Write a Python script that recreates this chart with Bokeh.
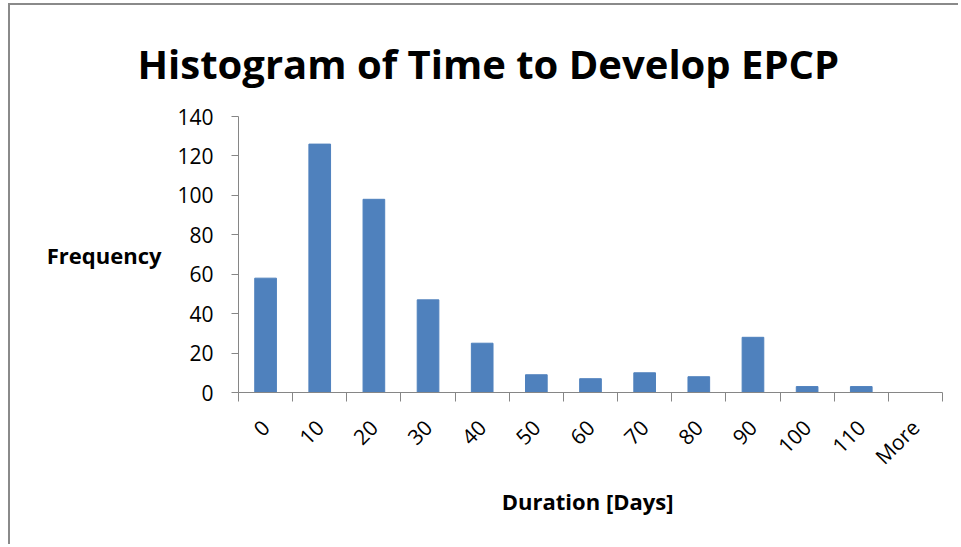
import math
from bokeh.plotting import figure
from bokeh.models import Range1d, FixedTicker, LinearAxis, Title
from bokeh.embed import file_html
from bokeh.resources import INLINE

# ---- data ----
bins = ["0", "10", "20", "30", "40", "50", "60", "70", "80", "90", "100", "110", "More"]
frequency = [58, 126, 98, 47, 25, 9, 7, 10, 8, 28, 3, 3, 0]
y_ticks = [0, 20, 40, 60, 80, 100, 120, 140]

title_text = "Histogram of Time to Develop EPCP"
x_label = "Duration  [Days]"
y_label = "Frequency"

FONT = "Open Sans"
BAR = "#4F81BD"
AXIS = "#868686"

n = len(bins)
y_max = y_ticks[-1]
centers = [i + 0.5 for i in range(n)]
bounds = [float(i) for i in range(n + 1)]

p = figure(
    width=950, height=541,
    output_backend="svg", toolbar_location=None,
    x_range=Range1d(0, n), y_range=Range1d(0, y_max),
    x_axis_type=None, y_axis_type=None,
    min_border_left=228, min_border_right=18,
    min_border_top=111, min_border_bottom=154,
    outline_line_color=None, background_fill_color="white",
    border_fill_color="white",
)
p.styles = {"border-top": "2px solid #8a8a8a", "border-left": "2px solid #8a8a8a",
            "margin-top": "3px", "margin-left": "8px"}
p.grid.visible = False

p.vbar(x=centers, top=frequency, width=0.4, fill_color=BAR, line_color=BAR)

# y axis
ya = LinearAxis(ticker=FixedTicker(ticks=y_ticks, minor_ticks=[]))
ya.axis_line_color = AXIS
ya.major_tick_line_color = AXIS
ya.major_tick_out = 7
ya.major_tick_in = 0
ya.minor_tick_line_color = None
ya.major_label_text_font = FONT
ya.major_label_text_font_size = "21px"
ya.major_label_text_color = "#000000"
ya.major_label_standoff = 18
ya.axis_label = y_label
ya.axis_label_orientation = "horizontal"
ya.axis_label_text_font = FONT
ya.axis_label_text_font_style = "bold"
ya.axis_label_text_font_size = "22px"
ya.axis_label_text_color = "#000000"
ya.axis_label_standoff = 13
p.add_layout(ya, "left")

# x axis
xa = LinearAxis(ticker=FixedTicker(ticks=centers, minor_ticks=bounds))
xa.major_label_overrides = {c: b for c, b in zip(centers, bins)}
xa.axis_line_color = AXIS
xa.major_tick_line_color = None
xa.minor_tick_line_color = AXIS
xa.minor_tick_out = 9
xa.minor_tick_in = 0
xa.major_label_orientation = math.pi / 4
xa.major_label_text_font = FONT
xa.major_label_text_font_size = "21px"
xa.major_label_text_color = "#000000"
xa.major_label_standoff = 22
xa.axis_label = x_label
xa.axis_label_text_font = FONT
xa.axis_label_text_font_style = "bold"
xa.axis_label_text_font_size = "22px"
xa.axis_label_text_color = "#000000"
xa.axis_label_standoff = 3
p.add_layout(xa, "below")

t = Title(text=title_text, align="left", offset=-101, standoff=52,
          text_font=FONT, text_font_style="bold", text_font_size="40px",
          text_color="#000000")
p.add_layout(t, "above")

open("out.html", "w").write(file_html(p, INLINE))
